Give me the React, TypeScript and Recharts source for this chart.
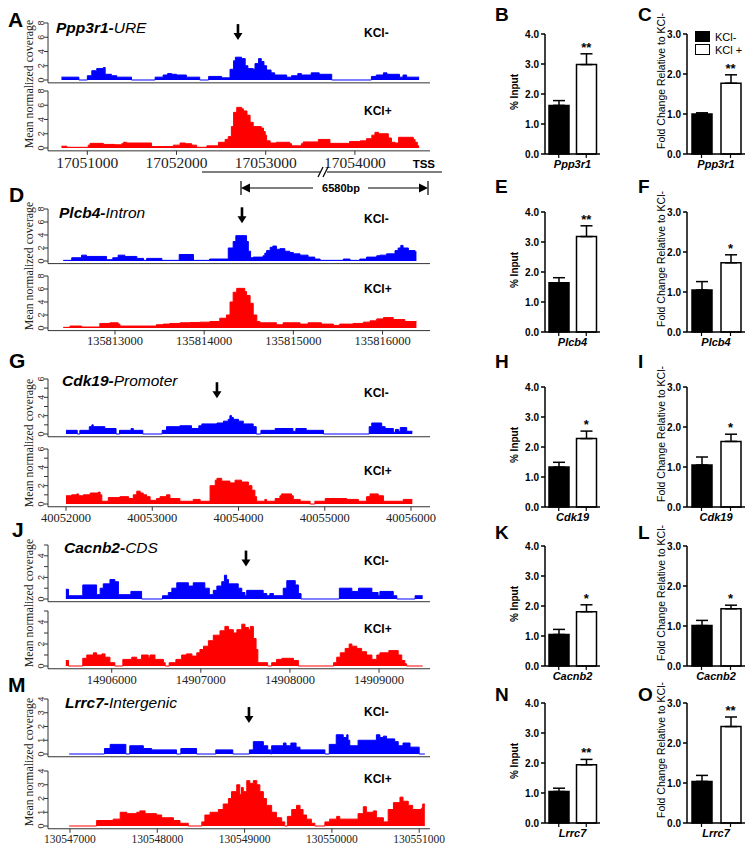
import { AreaChart, Area, XAxis, YAxis, ReferenceDot, BarChart, Bar, Cell, ErrorBar } from "recharts";

const SANS = '"Liberation Sans", Arial, Helvetica, sans-serif';
const SERIF = '"Liberation Serif", "Times New Roman", serif';

// coverage tracks: [genomic position, mean normalized coverage] (step starts)
const ppp3r1Minus = [
  [17050710, 0.4], [17050905, 0], [17051000, 0.6], [17051050, 1.3], [17051105, 1.6], [17051180, 1.75],
  [17051200, 0.8], [17051270, 0.6], [17051330, 0.4], [17051495, 0], [17051760, 0.4], [17051850, 0.7],
  [17051900, 0.9], [17051945, 0.8], [17052000, 0.7], [17052110, 0.4], [17052260, 0], [17052360, 0.5],
  [17052505, 0.3], [17052600, 1.5], [17052640, 2.7], [17052660, 3.2], [17052730, 3.0], [17052770, 2.0],
  [17052800, 1.6], [17052860, 1.5], [17052880, 2.3], [17052920, 3.0], [17052950, 2.6], [17052980, 2.0],
  [17053010, 1.4], [17053060, 1.0], [17053100, 0.7], [17053235, 0.4], [17053290, 0.6], [17053360, 0.9],
  [17053400, 0.7], [17053510, 1.0], [17053600, 0.8], [17053740, 0], [17054185, 0.5], [17054240, 0.7],
  [17054320, 1.0], [17054360, 0.8], [17054500, 0.4], [17054540, 0.7], [17054580, 0.4], [17054720, 0.4],
];
const ppp3r1Plus = [
  [17050710, 0.25], [17050770, 0.1], [17051010, 0.4], [17051030, 0.65], [17051180, 0.5], [17051310, 0.45],
  [17051385, 0.6], [17051405, 0.8], [17051440, 0.7], [17051720, 0.2], [17051965, 0.4], [17052040, 0.7],
  [17052100, 0.6], [17052170, 0.4], [17052225, 0.1], [17052340, 0.3], [17052470, 0.8], [17052545, 1.2],
  [17052580, 1.6], [17052615, 3.0], [17052640, 5.0], [17052675, 5.7], [17052730, 5.5], [17052750, 5.2],
  [17052790, 4.6], [17052825, 3.6], [17052860, 3.0], [17052950, 2.8], [17052975, 2.3], [17052995, 1.8],
  [17053010, 1.0], [17053050, 0.7], [17053120, 0.8], [17053270, 0.6], [17053290, 0.3], [17053400, 0.6],
  [17053420, 0.85], [17053590, 1.2], [17053720, 0.65], [17053940, 0.9], [17054060, 1.0], [17054130, 1.3],
  [17054190, 1.8], [17054225, 2.2], [17054265, 2.0], [17054375, 1.4], [17054410, 0.8], [17054450, 0.7],
  [17054490, 1.5], [17054655, 1.2], [17054675, 0.8], [17054700, 0.3], [17054720, 0.3],
];
const plcb4Minus = [
  [135812420, 0.1], [135812515, 0.5], [135812625, 0.9], [135812680, 0.7], [135812905, 0.2], [135812975, 0.5],
  [135813035, 0.9], [135813110, 0.7], [135813245, 0.4], [135813320, 0.1], [135813355, 0.4], [135813525, 0.1],
  [135813720, 1.0], [135813880, 0.1], [135814060, 0.3], [135814270, 2.0], [135814325, 3.0], [135814355, 3.9],
  [135814475, 3.0], [135814495, 1.5], [135814520, 0.5], [135814550, 0.6], [135814660, 0.8], [135814680, 1.2],
  [135814700, 1.6], [135814740, 2.1], [135814770, 2.3], [135814810, 1.8], [135814850, 1.9], [135814905, 1.5],
  [135814960, 1.3], [135815000, 1.1], [135815075, 0.9], [135815165, 0.6], [135815240, 0.3], [135815300, 0.1],
  [135815560, 0.3], [135815635, 0.1], [135815745, 0.3], [135815820, 0.6], [135815935, 0.8], [135815970, 0.9],
  [135816045, 1.1], [135816140, 1.6], [135816175, 2.0], [135816205, 2.4], [135816230, 2.0], [135816290, 1.6],
  [135816365, 1.4], [135816380, 1.4],
];
const plcb4Plus = [
  [135812420, 0.1], [135812495, 0.3], [135812625, 0.15], [135812830, 0.7], [135812945, 0.8], [135813035, 0.6],
  [135813055, 0.3], [135813465, 0.5], [135813540, 0.6], [135813615, 0.7], [135813730, 0.8], [135813840, 0.85],
  [135813955, 0.9], [135814065, 1.0], [135814175, 1.5], [135814250, 2.0], [135814290, 4.0], [135814325, 5.5],
  [135814365, 6.1], [135814455, 5.6], [135814475, 5.0], [135814515, 3.8], [135814550, 2.0], [135814590, 1.0],
  [135814625, 0.8], [135814810, 0.5], [135814885, 0.8], [135815075, 0.6], [135815165, 0.8], [135815315, 0.6],
  [135815450, 0.4], [135815520, 0.6], [135815670, 0.7], [135815785, 0.9], [135815860, 1.1], [135815935, 1.4],
  [135816010, 1.6], [135816120, 1.3], [135816250, 1.0], [135816380, 1.0],
];
const cdk19Minus = [
  [40052000, 0.4], [40052130, 0], [40052160, 0.4], [40052270, 0.8], [40052300, 1.0], [40052315, 0.8],
  [40052450, 0.6], [40052580, 0], [40052620, 0.4], [40052755, 0.6], [40052780, 0.4], [40052890, 0],
  [40053115, 0.4], [40053165, 0.8], [40053320, 0.9], [40053455, 0.6], [40053540, 0.9], [40053575, 1.1],
  [40053750, 1.2], [40053825, 1.4], [40053880, 1.6], [40053900, 2.0], [40053920, 1.8], [40053940, 1.6],
  [40054000, 1.4], [40054055, 1.1], [40054170, 0.8], [40054205, 0], [40054260, 0.4], [40054425, 0.6],
  [40054630, 0.3], [40054665, 0.6], [40054785, 0.4], [40054985, 0], [40055515, 0.8], [40055545, 1.2],
  [40055660, 0.8], [40055700, 0.6], [40055795, 0.2], [40055820, 0.5], [40055855, 0.3], [40055875, 0.7],
  [40055950, 0.3], [40056015, 0.3],
];
const cdk19Plus = [
  [40052000, 0.9], [40052065, 1.0], [40052125, 1.1], [40052145, 0.9], [40052200, 1.0], [40052280, 1.2],
  [40052375, 1.3], [40052395, 1.0], [40052415, 0.3], [40052490, 0.7], [40052625, 0.8], [40052725, 0.6],
  [40052780, 1.0], [40052820, 1.4], [40052860, 1.2], [40052895, 1.0], [40052935, 0.8], [40052975, 0.4],
  [40053050, 0.6], [40053090, 0.8], [40053165, 1.0], [40053205, 0.6], [40053320, 0.3], [40053475, 0.5],
  [40053555, 0.3], [40053670, 2.0], [40053730, 2.6], [40053750, 2.8], [40053805, 2.5], [40053900, 2.3],
  [40053960, 2.6], [40054035, 2.4], [40054115, 2.0], [40054155, 1.5], [40054190, 0.8], [40054210, 0.3],
  [40054305, 0.5], [40054325, 0.3], [40054425, 0.6], [40054480, 0.9], [40054500, 1.1], [40054615, 0.9],
  [40054635, 0.5], [40054715, 0.3], [40054830, 0], [40054885, 0.3], [40055005, 0.6], [40055255, 0.5],
  [40055390, 0.3], [40055485, 0.8], [40055525, 1.1], [40055620, 0.9], [40055680, 0.3], [40055910, 0.5],
  [40056015, 0.5],
];
const cacnb2Minus = [
  [14905485, 0.9], [14905515, 0.3], [14905675, 1.3], [14905830, 0.4], [14905870, 1.0], [14905905, 1.4],
  [14905980, 1.8], [14906035, 1.6], [14906075, 0.4], [14906215, 0.7], [14906335, 0], [14906570, 0.3],
  [14906635, 0.6], [14906675, 1.0], [14906730, 1.5], [14906860, 1.2], [14906915, 1.5], [14907045, 1.0],
  [14907095, 0.4], [14907140, 0.8], [14907180, 1.2], [14907235, 1.6], [14907265, 2.2], [14907290, 1.8],
  [14907310, 1.4], [14907420, 1.0], [14907460, 0.6], [14907495, 0.3], [14907515, 0.8], [14907700, 0.5],
  [14907740, 0.3], [14907775, 0.5], [14907815, 0.3], [14907925, 1.0], [14907965, 1.7], [14908060, 1.3],
  [14908095, 0.5], [14908125, 0], [14908555, 1.0], [14908695, 0.7], [14908770, 1.0], [14908920, 0.6],
  [14908990, 0.3], [14909010, 0.7], [14909160, 0.3], [14909200, 0], [14909405, 0.3], [14909490, 0.3],
];
const cacnb2Plus = [
  [14905485, 0.5], [14905515, 0], [14905675, 0.7], [14905720, 1.0], [14905795, 1.2], [14905830, 1.0],
  [14905890, 1.1], [14905925, 0.8], [14905980, 0.3], [14906035, 0], [14906125, 0.6], [14906225, 0.8],
  [14906280, 0.6], [14906335, 1.0], [14906410, 0.8], [14906430, 1.0], [14906485, 0.6], [14906580, 0.3],
  [14906600, 0], [14906645, 0.3], [14906720, 0.6], [14906785, 1.0], [14906840, 1.1], [14906900, 0.9],
  [14906955, 1.2], [14906990, 1.5], [14907030, 1.8], [14907085, 2.3], [14907140, 2.8], [14907215, 3.2],
  [14907270, 3.6], [14907310, 3.3], [14907365, 3.0], [14907405, 3.3], [14907460, 3.8], [14907495, 3.5],
  [14907535, 3.3], [14907555, 3.6], [14907590, 2.5], [14907620, 1.5], [14907640, 0.3], [14907750, 0],
  [14907795, 0.3], [14907850, 0.6], [14907910, 0.7], [14908040, 0.5], [14908095, 0], [14908490, 0.3],
  [14908525, 0.8], [14908565, 1.2], [14908620, 1.6], [14908665, 2.0], [14908695, 1.8], [14908750, 1.6],
  [14908805, 1.3], [14908860, 1.0], [14908920, 0.6], [14908975, 1.0], [14909010, 1.2], [14909110, 1.4],
  [14909215, 1.0], [14909255, 0.5], [14909290, 0.2], [14909310, 0], [14909490, 0],
];
const lrrc7Minus = [
  [130546990, 0], [130547395, 0.4], [130547460, 0.7], [130547640, 0], [130547685, 0.6], [130547840, 0.4],
  [130547935, 0.3], [130548220, 0], [130548270, 0.4], [130548450, 0], [130548670, 0.3], [130548865, 0],
  [130549055, 0.3], [130549100, 0.9], [130549215, 0.6], [130549265, 0.3], [130549300, 0], [130549310, 0.6],
  [130549445, 0.8], [130549475, 0.6], [130549530, 0.8], [130549590, 0.5], [130549635, 0.3], [130549920, 0],
  [130549970, 0.7], [130550050, 1.4], [130550130, 1.2], [130550170, 1.4], [130550185, 1.0], [130550205, 0.6],
  [130550300, 1.0], [130550510, 1.4], [130550550, 1.2], [130550590, 1.3], [130550625, 1.1], [130550720, 0.9],
  [130550760, 0.6], [130550815, 0.8], [130550895, 0.5], [130551000, 0], [130551065, 0],
];
const lrrc7Plus = [
  [130546990, 0], [130547305, 0.4], [130547495, 0.5], [130547575, 1.0], [130547650, 0.9], [130547765, 1.0],
  [130547800, 1.1], [130547860, 0.9], [130547990, 0.8], [130548050, 0.6], [130548185, 0.4], [130548260, 0.2],
  [130548355, 0], [130548510, 0.3], [130548545, 0.8], [130548605, 1.0], [130548700, 1.2], [130548755, 1.6],
  [130548815, 2.0], [130548850, 2.5], [130548910, 3.0], [130548945, 2.3], [130548965, 2.8], [130548985, 2.5],
  [130549025, 3.3], [130549060, 3.1], [130549100, 3.3], [130549140, 3.0], [130549175, 2.5], [130549215, 2.0],
  [130549250, 1.5], [130549310, 1.0], [130549365, 0.6], [130549425, 0.3], [130549460, 0], [130549490, 0.7],
  [130549540, 1.2], [130549595, 1.5], [130549635, 1.2], [130549670, 0.8], [130549710, 0.5], [130549765, 0.2],
  [130549805, 0], [130549920, 0.3], [130549975, 0.5], [130550055, 0.7], [130550090, 0.5], [130550300, 0.9],
  [130550360, 1.4], [130550395, 1.0], [130550475, 1.1], [130550510, 0.6], [130550590, 0.3], [130550645, 1.2],
  [130550705, 1.7], [130550780, 2.1], [130550815, 1.8], [130550875, 1.5], [130550925, 1.2], [130551025, 1.3],
  [130551040, 1.6], [130551065, 1.6],
];

const genes = ["Ppp3r1", "Plcb4", "Cdk19", "Cacnb2", "Lrrc7"];
const regions = ["URE", "Intron", "Promoter", "CDS", "Intergenic"];
const minusTracks = [ppp3r1Minus, plcb4Minus, cdk19Minus, cacnb2Minus, lrrc7Minus];
const plusTracks = [ppp3r1Plus, plcb4Plus, cdk19Plus, cacnb2Plus, lrrc7Plus];
const xTicks = [
  [17051000, 17052000, 17053000, 17054000],
  [135813000, 135814000, 135815000, 135816000],
  [40052000, 40053000, 40054000, 40055000, 40056000],
  [14906000, 14907000, 14908000, 14909000],
  [130547000, 130548000, 130549000, 130550000, 130551000],
];
const xDomains = [
  [17050559, 17054842],
  [135812249, 135816532],
  [40051791, 40056220],
  [14905285, 14909572],
  [130546748, 130551124],
];
const arrowPos = [17052689, 135814424, 40053750, 14907507, 130549050];
const arrowHeight = [5.6, 5.8, 3.9, 3.0, 2.25];
const yMaxes = [8, 8, 6, 5, 4];
const yTickSets = [[0, 2, 4, 6, 8], [0, 2, 4, 6, 8], [0, 1, 2, 3, 4, 5, 6], [0, 1, 2, 3, 4, 5], [0, 1, 2, 3, 4]];
const yLabelSteps = [2, 2, 2, 2, 1];

// ChIP-qPCR, KCl- / KCl+ (mean, sem)
const inputMinus = [1.62, 1.64, 1.33, 1.05, 1.05];
const inputMinusSem = [0.16, 0.17, 0.16, 0.17, 0.11];
const inputPlus = [2.98, 3.18, 2.28, 1.81, 1.94];
const inputPlusSem = [0.36, 0.36, 0.25, 0.23, 0.18];
const inputSig = ["**", "**", "*", "*", "**"];
const foldMinus = [1.0, 1.05, 1.05, 1.01, 1.04];
const foldMinusSem = [0.03, 0.21, 0.2, 0.13, 0.15];
const foldPlus = [1.77, 1.73, 1.64, 1.43, 2.41];
const foldPlusSem = [0.21, 0.2, 0.18, 0.09, 0.24];
const foldSig = ["**", "*", "*", "*", "**"];

// layout of the five rows
const covRows = [
  { letter: "A", lx: 8, ly: 27, gx: 56, gy: 33, km: 37, kp: 115, t1: 23, z1: 80, t2: 91, z2: 148, yc: 84, font: 15.5 },
  { letter: "D", lx: 9, ly: 202, gx: 59, gy: 218, km: 223, kp: 293, t1: 209, z1: 261, t2: 276, z2: 328, yc: 266, font: 12.5 },
  { letter: "G", lx: 9, ly: 368, gx: 62, gy: 386, km: 397, kp: 475, t1: 379, z1: 434, t2: 449, z2: 504, yc: 443, font: 12.5 },
  { letter: "J", lx: 12, ly: 537, gx: 64, gy: 553, km: 565, kp: 633, t1: 545, z1: 599, t2: 611, z2: 666, yc: 603, font: 12.5 },
  { letter: "M", lx: 8, ly: 692, gx: 65, gy: 708, km: 716, kp: 783, t1: 699, z1: 754, t2: 771, z2: 826, yc: 762, font: 11.5 },
];
const barRows = [
  { l1: "B", l2: "C", ly: 21, zero: 154 },
  { l1: "E", l2: "F", ly: 193, zero: 332 },
  { l1: "H", l2: "I", ly: 368, zero: 507 },
  { l1: "K", l2: "L", ly: 539, zero: 666 },
  { l1: "N", l2: "O", ly: 701, zero: 823 },
];

const toRows = (pts: number[][]) => pts.map(([x, y]) => ({ x, y }));

function YTick(props: any) {
  const { x, y, payload, step } = props;
  if (payload.value % step !== 0) return <g />;
  return (
    <text x={x} y={y} transform={`rotate(-90 ${x} ${y})`} textAnchor="middle" fontSize={9} fontFamily={SANS} fill="#333">
      {payload.value}
    </text>
  );
}

function DownArrow({ cx, cy }: { cx: number; cy: number }) {
  return (
    <g>
      <rect x={cx - 1.3} y={cy - 16} width={2.6} height={10} fill="#000" />
      <polygon points={`${cx - 4.5},${cy - 7} ${cx + 4.5},${cy - 7} ${cx},${cy}`} fill="#000" />
    </g>
  );
}

function Track({ i, pts, color, top, zero, labels, arrow }: any) {
  const mt = 6;
  const plotH = (zero - top) * 1.05;
  const xh = labels ? 26 : 6;
  const yMax = yMaxes[i];
  return (
    <div style={{ position: "absolute", left: 0, top: top - mt }}>
      <AreaChart width={470} height={mt + plotH + xh} data={toRows(pts)} margin={{ top: mt, right: 40, bottom: 0, left: 0 }}>
        <XAxis
          type="number"
          dataKey="x"
          domain={xDomains[i]}
          ticks={xTicks[i]}
          interval={0}
          allowDataOverflow
          height={xh}
          tickSize={4}
          tickMargin={2}
          stroke="#333"
          tick={labels ? { fontSize: covRows[i].font, fontFamily: SERIF, fill: "#222" } : false}
        />
        <YAxis
          type="number"
          domain={[-0.05 * yMax, yMax]}
          ticks={yTickSets[i]}
          interval={0}
          allowDataOverflow
          width={48}
          tickSize={4}
          tickMargin={0}
          stroke="#333"
          tick={<YTick step={yLabelSteps[i]} />}
        />
        <Area
          type="stepAfter"
          dataKey="y"
          stroke={color}
          strokeWidth={1}
          fill={color}
          fillOpacity={1}
          dot={false}
          activeDot={false}
          isAnimationActive={false}
        />
        {arrow && (
          <ReferenceDot
            x={arrowPos[i]}
            y={arrowHeight[i]}
            r={0}
            ifOverflow="visible"
            shape={(p: any) => <DownArrow cx={p.cx} cy={p.cy} />}
          />
        )}
      </AreaChart>
    </div>
  );
}

function BarPanel({ left, plotW, zero, gene, vals, sems, sig, yMax, yTicks }: any) {
  const data = [
    { cond: "KCl-", value: vals[0], err: [0, sems[0]] },
    { cond: "KCl +", value: vals[1], err: [0, sems[1]] },
  ];
  const mt = 8;
  return (
    <div style={{ position: "absolute", left, top: zero - 120 - mt }}>
      <BarChart width={50 + plotW + 10} height={mt + 120 + 14 + 8} data={data} margin={{ top: mt, right: 10, bottom: 8, left: 0 }} barCategoryGap={0}>
        <XAxis
          dataKey="cond"
          height={14}
          tickSize={4}
          tickFormatter={() => ""}
          axisLine={{ stroke: "#000", strokeWidth: 1.5 }}
          tickLine={{ stroke: "#000", strokeWidth: 1.2 }}
          label={{ value: gene, position: "insideBottom", offset: 0, fill: "#000", fontSize: 11, fontWeight: "bold", fontStyle: "italic", fontFamily: SANS }}
        />
        <YAxis
          type="number"
          domain={[0, yMax]}
          ticks={yTicks}
          interval={0}
          width={50}
          tickSize={4}
          tickMargin={2}
          tickFormatter={(v: number) => v.toFixed(1)}
          axisLine={{ stroke: "#000", strokeWidth: 1.5 }}
          tickLine={{ stroke: "#000", strokeWidth: 1.5 }}
          tick={{ fontSize: 10, fontWeight: "bold", fontFamily: SANS, fill: "#000" }}
        />
        <Bar dataKey="value" barSize={20} stroke="#000" strokeWidth={1.5} isAnimationActive={false}>
          <Cell fill="#000" />
          <Cell fill="#fff" />
          <ErrorBar dataKey="err" direction="y" width={6} stroke="#000" strokeWidth={1.5} />
        </Bar>
        <ReferenceDot
          x="KCl +"
          y={vals[1] + sems[1]}
          r={0}
          ifOverflow="visible"
          shape={(p: any) => (
            <text x={p.cx} y={p.cy - 2} textAnchor="middle" fontSize={13} fontWeight="bold" fontFamily={SANS} fill="#000">
              {sig}
            </text>
          )}
        />
      </BarChart>
    </div>
  );
}

export default function App() {
  return (
    <div style={{ position: "absolute", left: 0, top: 0, width: 754, height: 850, background: "#fff", overflow: "hidden" }}>
      {covRows.map((r, i) => (
        <div key={`cov-${i}`}>
          <Track i={i} pts={minusTracks[i]} color="#0000ff" top={r.t1} zero={r.z1} labels={false} arrow />
          <Track i={i} pts={plusTracks[i]} color="#ff0000" top={r.t2} zero={r.z2} labels arrow={false} />
        </div>
      ))}
      {barRows.map((r, i) => (
        <div key={`bar-${i}`}>
          <BarPanel left={495} plotW={55} zero={r.zero} gene={genes[i]} vals={[inputMinus[i], inputPlus[i]]} sems={[inputMinusSem[i], inputPlusSem[i]]} sig={inputSig[i]} yMax={4} yTicks={[0, 1, 2, 3, 4]} />
          <BarPanel left={637} plotW={58} zero={r.zero} gene={genes[i]} vals={[foldMinus[i], foldPlus[i]]} sems={[foldMinusSem[i], foldPlusSem[i]]} sig={foldSig[i]} yMax={3} yTicks={[0, 1, 2, 3]} />
        </div>
      ))}

      <svg width={754} height={850} style={{ position: "absolute", left: 0, top: 0, pointerEvents: "none" }}>
        {covRows.map((r, i) => (
          <g key={`lab-${i}`}>
            <text x={r.lx} y={r.ly} fontSize={21} fontWeight="bold" fontFamily={SANS}>{r.letter}</text>
            <text x={r.gx} y={r.gy} fontSize={15.5} fontFamily={SANS} fontStyle="italic">
              <tspan fontWeight="bold">{genes[i]}-</tspan>
              <tspan>{regions[i]}</tspan>
            </text>
            <text x={364} y={r.km} fontSize={12} fontWeight="bold" fontFamily={SANS}>KCl-</text>
            <text x={364} y={r.kp} fontSize={12} fontWeight="bold" fontFamily={SANS}>KCl+</text>
            <text x={33} y={r.yc} transform={`rotate(-90 33 ${r.yc})`} textAnchor="middle" fontSize={11.8} fontFamily={SERIF} fill="#222">
              Mean normalized coverage
            </text>
          </g>
        ))}

        {barRows.map((r, i) => (
          <g key={`blab-${i}`}>
            <text x={495} y={r.ly} fontSize={19} fontWeight="bold" fontFamily={SANS}>{r.l1}</text>
            <text x={638} y={r.ly} fontSize={19} fontWeight="bold" fontFamily={SANS}>{r.l2}</text>
            <text x={518} y={r.zero - 62} transform={`rotate(-90 518 ${r.zero - 62})`} textAnchor="middle" fontSize={10} fontWeight="bold" fontFamily={SANS}>
              % Input
            </text>
            <text x={665} y={r.zero - 73} transform={`rotate(-90 665 ${r.zero - 73})`} textAnchor="middle" fontSize={10.5} fontFamily={SANS}>
              Fold Change Relative to KCl-
            </text>
          </g>
        ))}

        {/* legend in C */}
        <rect x={695} y={31} width={15} height={11} fill="#000" />
        <text x={715} y={41} fontSize={11} fontFamily={SANS}>KCl-</text>
        <rect x={695.5} y={44.5} width={14} height={10} fill="#fff" stroke="#000" strokeWidth={1} />
        <text x={715} y={54} fontSize={11} fontFamily={SANS}>KCl +</text>

        {/* TSS distance annotation */}
        <g stroke="#000" strokeWidth={1.2}>
          <line x1={202} y1={172} x2={320} y2={172} />
          <line x1={318} y1={177} x2={323} y2={167} />
          <line x1={323} y1={177} x2={328} y2={167} />
          <line x1={327} y1={172} x2={442} y2={172} />
          <line x1={241} y1={181} x2={241} y2={195} />
          <line x1={249} y1={188} x2={313} y2={188} />
          <line x1={368} y1={188} x2={420} y2={188} />
          <line x1={428} y1={181} x2={428} y2={195} />
        </g>
        <polygon points="241,188 250,183.5 250,192.5" fill="#000" />
        <polygon points="428,188 419,183.5 419,192.5" fill="#000" />
        <text x={435} y={168} textAnchor="end" fontSize={11.5} fontWeight="bold" fontFamily={SANS}>TSS</text>
        <text x={341} y={192} textAnchor="middle" fontSize={11} fontWeight="bold" fontFamily={SANS}>6580bp</text>
      </svg>
    </div>
  );
}
